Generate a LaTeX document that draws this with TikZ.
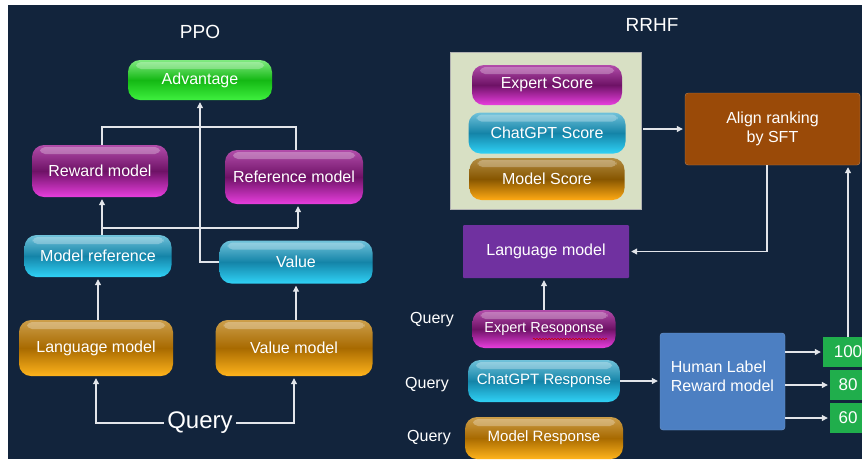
\documentclass[tikz,border=0pt]{standalone}
\usepackage{fontspec}
\setmainfont{Liberation Sans}
\usetikzlibrary{arrows.meta,positioning,calc,decorations.pathmorphing}

\definecolor{bgnavy}{HTML}{12243C}
\definecolor{linegray}{HTML}{E2E5EA}
\definecolor{magtop}{HTML}{B24CAA}
\definecolor{magmid}{HTML}{6E1266}
\definecolor{magbot}{HTML}{E83EDE}
\definecolor{cyantop}{HTML}{70C2DA}
\definecolor{cyanmid}{HTML}{1484A8}
\definecolor{cyanbot}{HTML}{30D2F6}
\definecolor{ortop}{HTML}{CC9E4A}
\definecolor{ormid}{HTML}{A86A00}
\definecolor{orbot}{HTML}{FFB41C}
\definecolor{dortop}{HTML}{B28C42}
\definecolor{dormid}{HTML}{875600}
\definecolor{dorbot}{HTML}{FFAA14}
\definecolor{grtop}{HTML}{80EA80}
\definecolor{grmid}{HTML}{14B814}
\definecolor{grbot}{HTML}{3EF03E}
\definecolor{sagebg}{HTML}{D8E0C4}
\definecolor{sftbrown}{HTML}{9A4A08}
\definecolor{lmpurple}{HTML}{7031A0}
\definecolor{humanblue}{HTML}{4C7FC2}
\definecolor{scoregreen}{HTML}{20AE4C}

\newcommand{\pillfont}{\fontsize{16}{19}\selectfont}

\tikzset{
  pill/.style={rounded corners=12pt, inner sep=0pt, text=white, font=\pillfont,
    path picture={\fill[white,opacity=.28,rounded corners=5pt]
      ([xshift=8pt,yshift=-2pt]path picture bounding box.north west) rectangle
      ([xshift=-8pt,yshift=-9pt]path picture bounding box.north east);}},
  magpill/.style={pill, top color=magtop, bottom color=magbot, middle color=magmid},
  cyanpill/.style={pill, top color=cyantop, bottom color=cyanbot, middle color=cyanmid},
  orpill/.style={pill, top color=ortop, bottom color=orbot, middle color=ormid},
  dorpill/.style={pill, top color=dortop, bottom color=dorbot, middle color=dormid},
  grpill/.style={pill, top color=grtop, bottom color=grbot, middle color=grmid},
  flatbox/.style={rounded corners=3pt, inner sep=0pt, text=white, font=\pillfont, align=center},
  plain/.style={text=white, font=\pillfont},
  arr/.style={draw=linegray, line width=1.1pt, shorten >=2pt, -{Triangle[length=6pt,width=6pt]}},
  link/.style={draw=linegray, line width=1.1pt},
}

\begin{document}
\begin{tikzpicture}[x=1pt,y=-1pt]

    \useasboundingbox (0,0) rectangle (862,459);
    \clip (0,0) rectangle (862,459);
    \fill[white] (0,0) rectangle (862,459);
    \fill[bgnavy] (8,5) rectangle (862,459);

    % PPO
    \node[plain, font=\fontsize{19}{22}\selectfont] (ppo) at (200,32) {PPO};

    \node[grpill, minimum width=144, minimum height=40] (adv) at (200,80) {Advantage};
    \node[magpill, minimum width=136, minimum height=52] (rm) at (100,171) {Reward model};
    \node[magpill, minimum width=138, minimum height=54] (refm) at (294,177) {Reference model};
    \node[cyanpill, minimum width=147, minimum height=42] (mref) at (98,256) {Model reference};
    \node[cyanpill, minimum width=153, minimum height=43] (val) at (296,262) {Value};
    \node[orpill, minimum width=154, minimum height=56] (lm) at (96,348) {Language model};
    \node[orpill, minimum width=157, minimum height=56] (vm) at (294,348) {Value model};
    \node[plain, font=\fontsize{24}{28}\selectfont] (query) at (200,423) {Query};

    \coordinate (jr) at (102,228);
    \coordinate (jr2) at (298,228);
    \coordinate (bl) at (102,127);
    \coordinate (br) at (296,127);

    \draw[arr] (query.west) -| (lm.south);
    \draw[arr] (query.east) -| (vm.south);
    \draw[arr] (lm.north -| mref) -- (mref.south);
    \draw[arr] (vm.north -| val) -- (val.south);
    \draw[link] (mref.north -| jr) -- (jr) -- (jr2);
    \draw[arr] (jr) -- (rm.south -| jr);
    \draw[arr] (jr2) -- (refm.south -| jr2);
    \draw[link] (rm.north -| bl) -- (bl) -- (br) -- (refm.north -| br);
    \draw[arr] (val.west) -| (adv.south);

    % RRHF
    \node[plain, font=\fontsize{19}{22}\selectfont] (rrhf) at (652,25) {RRHF};

    \node[fill=sagebg, draw=gray!60, minimum width=191, minimum height=157] (scores) at (545.5,130.5) {};
    \node[magpill, minimum width=150, minimum height=40] (es) at (547,85) {Expert Score};
    \node[cyanpill, minimum width=157, minimum height=41] (cs) at (547,133) {ChatGPT Score};
    \node[dorpill, minimum width=155, minimum height=42] (ms) at (547,179) {Model Score};

    \node[flatbox, fill=sftbrown, draw=sftbrown!70!white, minimum width=175, minimum height=72] (align) at (772.5,129) {Align ranking\\by SFT};
    \node[flatbox, rounded corners=1pt, fill=lmpurple, minimum width=166, minimum height=53] (lmr) at (546,251.5) {Language model};

    \node[plain] (q1) at (432,320) {Query};
    \node[plain] (q2) at (427,385) {Query};
    \node[plain] (q3) at (429,438) {Query};

    \node[magpill, minimum width=143, minimum height=38, font=\fontsize{14.5}{17}\selectfont] (expr) at (544,329) {Expert Resoponse};
    \node[cyanpill, minimum width=152, minimum height=42, font=\fontsize{15}{18}\selectfont] (chr) at (544,381) {ChatGPT Response};
    \node[orpill, minimum width=158, minimum height=42, font=\fontsize{15}{18}\selectfont] (mr) at (544,438) {Model Response};
    \draw[red!80!black, line width=.6pt, decorate, decoration={snake,amplitude=.7pt,segment length=3pt}]
        (533,339) -- (607,339);

    \node[flatbox, fill=humanblue, draw=humanblue!80!white, minimum width=125, minimum height=97,
        label={[plain, align=left, yshift=5pt]center:Human Label\\Reward model}] (human) at (722.5,381.5) {};

    \node[flatbox, rounded corners=0pt, fill=scoregreen, minimum width=50, minimum height=30,
        font=\fontsize{17}{20}\selectfont] (s100) at (848,352) {100};
    \node[flatbox, rounded corners=0pt, fill=scoregreen, minimum width=36, minimum height=30,
        font=\fontsize{17}{20}\selectfont] (s80) at (848,385) {80};
    \node[flatbox, rounded corners=0pt, fill=scoregreen, minimum width=36, minimum height=30,
        font=\fontsize{17}{20}\selectfont] (s60) at (848,418) {60};

    \coordinate (ac) at (767,251.5);
    \coordinate (up) at (848,300);

    \draw[arr, shorten <=2pt] (scores.east |- align) -- (align.west);
    \draw[arr] (align.south -| ac) |- (lmr.east);
    \draw[arr] (s100.north -| up) -- (align.south -| up);
    \draw[arr] (expr.north) -- (expr.north |- lmr.south);
    \draw[arr] (chr.east) -- (chr.east -| human.west);
    \draw[arr] (human.east |- s100) -- (s100.west);
    \draw[arr] (human.east |- s80) -- (s80.west);
    \draw[arr] (human.east |- s60) -- (s60.west);

\end{tikzpicture}
\end{document}
